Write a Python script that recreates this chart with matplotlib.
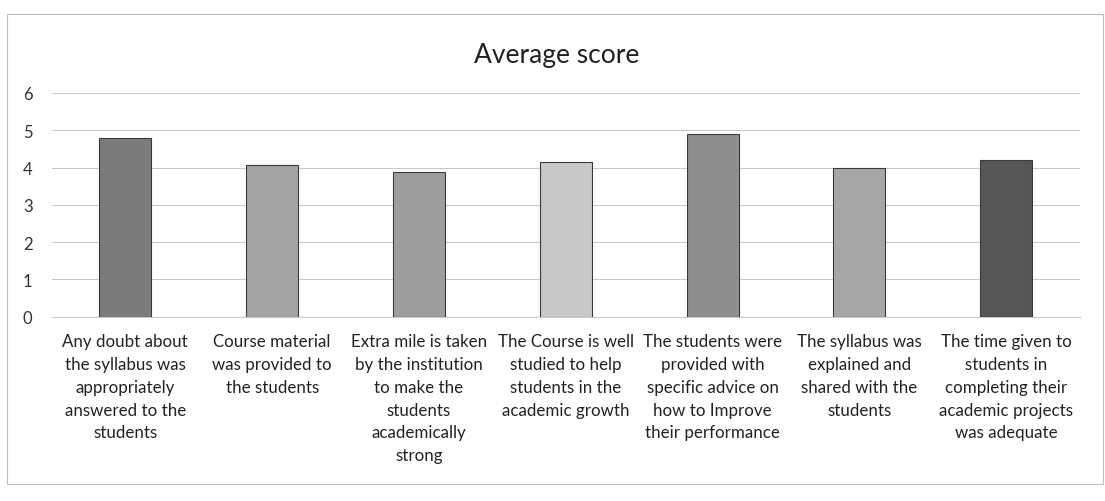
import numpy as np
import matplotlib.pyplot as plt
from matplotlib.patches import Rectangle

categories = [
    "Any doubt about\nthe syllabus was\nappropriately\nanswered to the\nstudents",
    "Course material\nwas provided to\nthe students",
    "Extra mile is taken\nby the institution\nto make the\nstudents\nacademically\nstrong",
    "The Course is well\nstudied to help\nstudents in the\nacademic growth",
    "The students were\nprovided with\nspecific advice on\nhow to Improve\ntheir performance",
    "The syllabus was\nexplained and\nshared with the\nstudents",
    "The time given to\nstudents in\ncompleting their\nacademic projects\nwas adequate",
]
scores = [4.78, 4.06, 3.88, 4.14, 4.89, 3.98, 4.2]
bar_colors = ["#7b7b7b", "#a4a4a4", "#9e9e9e", "#c8c8c8", "#8e8e8e", "#a7a7a7", "#565656"]
yticks = [0, 1, 2, 3, 4, 5, 6]

plt.rcParams['font.family'] = ['Lato', 'DejaVu Sans']

fig = plt.figure(figsize=(11.05, 5.02), dpi=100)
ax = fig.add_axes([0.047, 0.367, 0.930, 0.446])

x = np.arange(len(scores))
ax.bar(x, scores, width=0.355, color=bar_colors, edgecolor="#3a3a3a", linewidth=0.8, zorder=3)

ax.set_ylim(0, 6)
ax.set_xlim(-0.5, len(scores) - 0.5)
ax.set_yticks(yticks)
ax.set_yticklabels([str(t) for t in yticks], fontsize=12, color="#333333")
ax.set_xticks(x)
ax.set_xticklabels(categories, fontsize=12.2, linespacing=1.52, color="#222222", va="top")
ax.tick_params(axis="both", length=0)
ax.tick_params(axis="x", pad=12)
ax.tick_params(axis="y", pad=14)
ax.grid(axis="y", color="#c9c9c9", linewidth=0.8, zorder=0)
for s in ["top", "right", "left"]:
    ax.spines[s].set_visible(False)
ax.spines["bottom"].set_color("#c9c9c9")
ax.spines["bottom"].set_linewidth(0.8)

fig.text(0.504, 0.89, "Average score", ha="center", va="center", fontsize=19, color="#222222")

# chart area border
fig.patches.append(Rectangle((0.006, 0.034), 0.992, 0.936, transform=fig.transFigure,
                             fill=False, edgecolor="#bdbdbd", linewidth=0.8))

fig.savefig("out.png", dpi=100, facecolor="white")
